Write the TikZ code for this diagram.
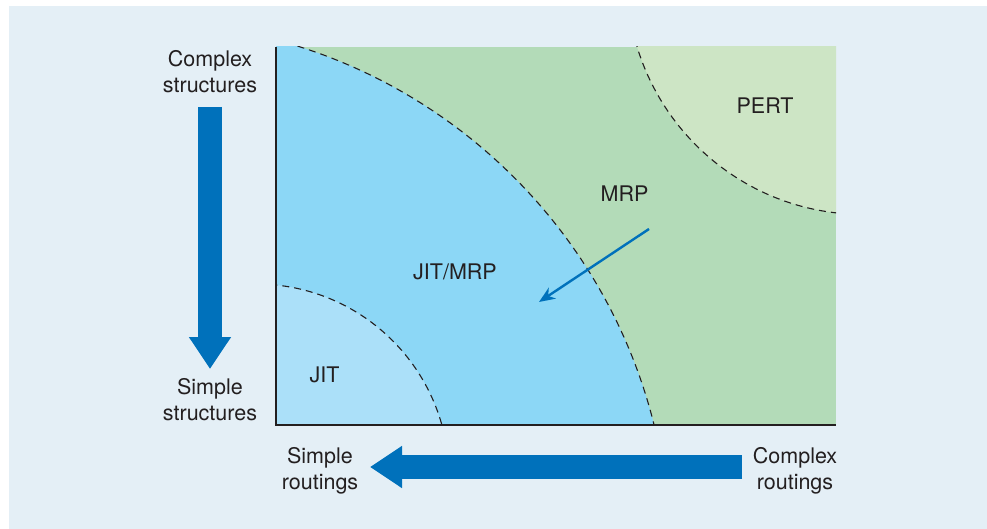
\documentclass[tikz,border=0pt]{standalone}
\usepackage{fontspec}
\setmainfont{TeX Gyre Heros}
\usetikzlibrary{arrows.meta}

\definecolor{bgblue}{HTML}{E4EFF6}
\definecolor{jitblue}{HTML}{ABE0F9}
\definecolor{jitmrpblue}{HTML}{8CD7F6}
\definecolor{mrpgreen}{HTML}{B3DBB8}
\definecolor{pertgreen}{HTML}{CDE5C5}
\definecolor{arrowblue}{HTML}{0071BB}
\definecolor{textgray}{HTML}{231F20}

\begin{document}
\begin{tikzpicture}[x=1pt,y=-1pt,
    lbl/.style={inner sep=0pt, anchor=north, align=center, text=textgray,
      font=\fontsize{21.5}{26}\selectfont},
    bigarrow/.style={draw=arrowblue, line width=24pt,
      -{Triangle[length=32pt,width=40pt]}},
    zone/.style={textgray, line width=1.1pt, dash pattern=on 7pt off 5pt},
    axis/.style={textgray, line width=1.4pt}]
    % page and background
    \useasboundingbox (0,0) rectangle (987,529);
    \fill [bgblue] (9,6) rectangle (987,529);

    % plot corners
    \coordinate (tl) at (276,47);
    \coordinate (o)  at (276,425);
    \coordinate (br) at (836,425);

    % regions (JIT, JIT/MRP, MRP, PERT)
    \begin{scope}
        \clip (tl) rectangle (br);
        \fill [mrpgreen] (tl) rectangle (br);
        \fill [jitmrpblue] (138.6,552.9) circle [radius=531];
        \fill [jitblue] (256,477) circle [radius=193];
        \fill [pertgreen] (863,-21.6) circle [radius=236];
        \draw [zone] (138.6,552.9) circle [radius=531];
        \draw [zone] (256,477) circle [radius=193];
        \draw [zone] (863,-21.6) circle [radius=236];
    \end{scope}

    % axes
    \draw [axis] (tl) -- (o) -- (br);

    % region labels
    \node [lbl] (jit)    at (324.5,367) {JIT};
    \node [lbl] (jitmrp) at (455,264)   {JIT/MRP};
    \node [lbl] (mrp)    at (624.5,186) {MRP};
    \node [lbl] (pert)   at (765,98)    {PERT};

    % shift from MRP towards JIT/MRP
    \coordinate (shiftfrom) at (649,229);
    \coordinate (shiftto)   at (539,302);
    \draw [arrowblue, line width=2.4pt,
      -{Stealth[length=16pt,width=13pt,inset=5pt]}] (shiftfrom) -- (shiftto);

    % axis captions
    \node [lbl] (cstruct) at (210,50)  {Complex\\structures};
    \node [lbl] (sstruct) at (210,378) {Simple\\structures};
    \node [lbl] (srout)   at (320,447) {Simple\\routings};
    \node [lbl] (crout)   at (795,447) {Complex\\routings};

    % big arrows
    \coordinate (vfrom) at (210,107);
    \coordinate (vto)   at (210,369);
    \coordinate (hfrom) at (742,467);
    \coordinate (hto)   at (370,467);
    \draw [bigarrow] (vfrom) -- (vto);
    \draw [bigarrow] (hfrom) -- (hto);
\end{tikzpicture}
\end{document}
